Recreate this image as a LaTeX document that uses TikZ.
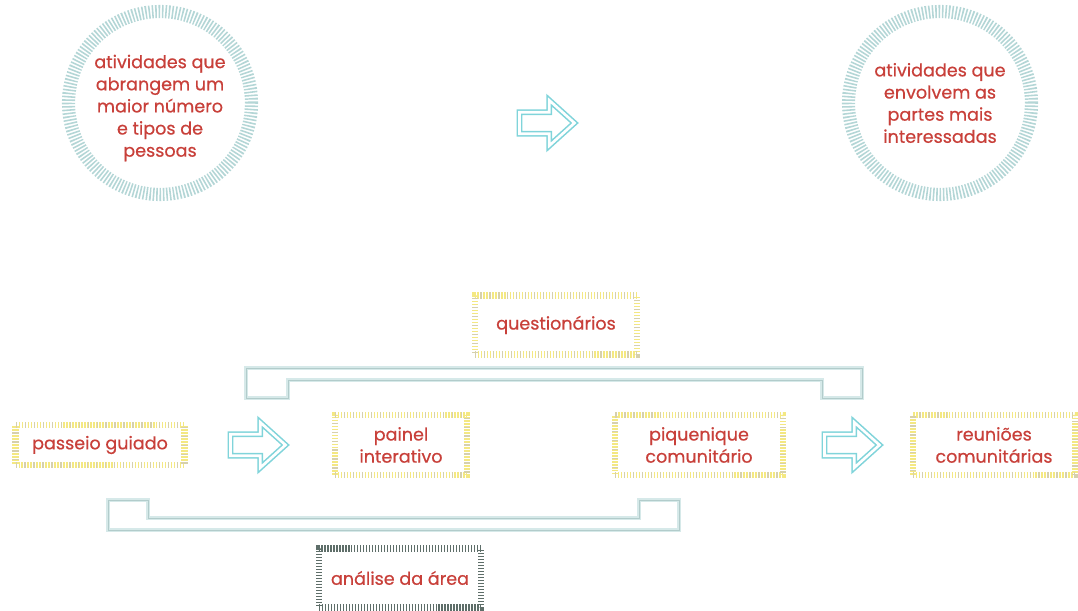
\documentclass[tikz,border=0pt]{standalone}
\usepackage{fontspec}
\setmainfont{Poppins}[FakeBold=0.6]
\usetikzlibrary{positioning, shapes.arrows}
\definecolor{textred}{RGB}{200,64,58}
\definecolor{ringteal}{RGB}{180,214,214}
\definecolor{arrowteal}{RGB}{128,212,218}
\definecolor{boxyellow}{RGB}{244,232,130}
\definecolor{boxgray}{RGB}{214,208,172}
\definecolor{boxdark}{RGB}{94,110,105}
\definecolor{bracketout}{RGB}{214,233,233}
\definecolor{bracketin}{RGB}{178,204,203}
\tikzset{
  label text/.style={text=textred, font=\fontsize{10}{12.6}\selectfont, align=center},
  ringnode/.style={label text, circle, draw=ringteal, line width=7.5pt,
    dash pattern=on 0.9pt off 1pt, minimum size=3.66cm, inner sep=0pt},
  hatchbox/.style={label text, rectangle, draw=boxyellow, line width=3.8pt,
    dash pattern=on 0.8pt off 0.9pt, inner sep=0pt,
    postaction={draw=boxgray, dash pattern=on 0.7pt off 4.4pt}},
  darkbox/.style={label text, rectangle, draw=boxdark, line width=3.8pt,
    dash pattern=on 0.8pt off 0.9pt, inner sep=0pt},
  flowarrow/.style={single arrow, draw=arrowteal, line width=0.9pt,
    double=white, double distance=1.5pt, inner sep=0.2cm,
    minimum height=1.1cm, single arrow head extend=0.24cm,
    single arrow tip angle=84},
  bracket/.style={preaction={draw=bracketout, line width=2pt},
    draw=bracketin, line width=0.45pt, line join=miter}
}
\begin{document}
\begin{tikzpicture}[x=0.02cm, y=-0.02cm]
  \useasboundingbox (0,0) rectangle (1078,611);

  % top row: the two circles and the arrow between them
  \node[ringnode] (wide) at (160,103) {};
  \node[label text] (wideText) at (160,108) {atividades que\\abrangem um\\maior número\\e tipos de\\pessoas};
  \node[ringnode] (deep) at (940,103) {atividades que\\envolvem as\\partes mais\\interessadas};
  \node[flowarrow] (topArrow) at (541,123) {};

  % activities
  \node[hatchbox, minimum width=3.24cm, minimum height=1.18cm] (survey) at (556,325) {questionários};
  \node[hatchbox, minimum width=3.38cm, minimum height=0.8cm] (walk) at (100,445) {passeio guiado};
  \node[hatchbox, minimum width=2.64cm, minimum height=1.2cm] (panel) at (401,445) {painel\\interativo};
  \node[hatchbox, minimum width=3.36cm, minimum height=1.2cm] (picnic) at (699,445) {piquenique\\comunitário};
  \node[hatchbox, minimum width=3.24cm, minimum height=1.2cm] (meeting) at (994,445) {reuniões\\comunitárias};
  \node[darkbox, minimum width=3.24cm, minimum height=1.18cm] (area) at (400,578) {análise da área};

  % arrows between the activities
  \node[flowarrow] (walkArrow) at (252,445) {};
  \node[flowarrow] (picnicArrow) at (846,445) {};

  % brackets
  \draw[bracket] (246,368) -- (862,368) -- (862,398) -- (822,398) -- (822,380)
    -- (288,380) -- (288,398) -- (246,398) -- cycle;
  \draw[bracket] (108,500) -- (148,500) -- (148,518) -- (639,518) -- (639,500)
    -- (679,500) -- (679,530) -- (108,530) -- cycle;
\end{tikzpicture}
\end{document}
